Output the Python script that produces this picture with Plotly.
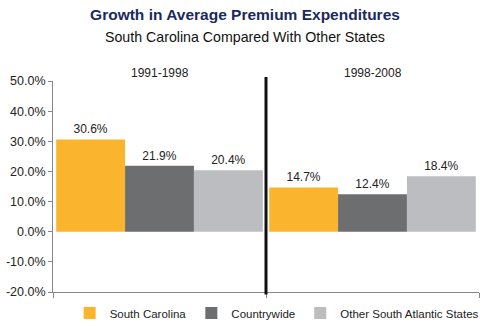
import plotly.graph_objects as go

periods = ["1991-1998", "1998-2008"]
series_names = ["South Carolina", "Countrywide", "Other South Atlantic States"]
south_carolina = [30.6, 14.7]
countrywide = [21.9, 12.4]
other_south_atlantic = [20.4, 18.4]
y_ticks = [-20, -10, 0, 10, 20, 30, 40, 50]
y_tick_labels = ["-20.0%", "-10.0%", "0.0%", "10.0%", "20.0%", "30.0%", "40.0%", "50.0%"]

colors = ["#FBB42E", "#6D6E70", "#BCBDC0"]
values = [south_carolina, countrywide, other_south_atlantic]

font_family = "Liberation Sans, Arial, sans-serif"

fig = go.Figure()
for name, vals, col in zip(series_names, values, colors):
    fig.add_trace(go.Bar(
        x=periods, y=vals, name=name,
        marker=dict(color=col, line=dict(width=0)),
        texttemplate="%{y:.1f}%", textposition="outside",
        textfont=dict(size=12, color="#222222", family=font_family),
        cliponaxis=False,
    ))

fig.update_layout(
    width=500, height=326,
    margin=dict(l=53, r=21, t=81, b=34, autoexpand=False),
    paper_bgcolor="white", plot_bgcolor="white",
    barmode="group", bargap=0.03, bargroupgap=0,
    font=dict(family=font_family, size=12, color="#222222"),
    title=dict(
        text="<b>Growth in Average Premium Expenditures</b>",
        x=0.49, xanchor="center", y=1 - 15 / 326, yanchor="middle",
        font=dict(size=15.5, color="#1B2A5C", family=font_family),
    ),
    showlegend=True,
    legend=dict(
        orientation="h", x=0.525, xanchor="center", y=-0.1, yanchor="middle",
        font=dict(size=11.5, color="#222222"), itemwidth=30,
        traceorder="normal", bgcolor="rgba(0,0,0,0)",
    ),
    xaxis=dict(
        showticklabels=False, showline=True, linecolor="#888888", linewidth=1,
        ticks="outside", tickson="boundaries", ticklen=5, tickcolor="#888888",
        showgrid=False, zeroline=False,
    ),
    yaxis=dict(
        range=[-20, 50], tickvals=y_ticks, ticktext=y_tick_labels,
        showline=True, linecolor="#888888", linewidth=1,
        ticks="outside", ticklen=4, tickcolor="#888888",
        showgrid=False, zeroline=False,
        tickfont=dict(size=12.5, color="#222222"),
    ),
)

fig.add_annotation(
    text="South Carolina Compared With Other States",
    xref="paper", yref="paper", x=(245 - 53) / 426, y=(292 - 37) / 211,
    showarrow=False, font=dict(size=14.2, color="#111111", family=font_family),
    xanchor="center", yanchor="middle",
)
for p in periods:
    fig.add_annotation(
        text=p, x=p, xref="x", yref="paper", y=(292 - 73) / 211,
        showarrow=False, font=dict(size=12, color="#222222"),
        xanchor="center", yanchor="middle",
    )

fig.add_shape(
    type="line", xref="paper", yref="paper", x0=0.5, x1=0.5,
    y0=-0.012, y1=(292 - 77) / 211, line=dict(color="#111111", width=3),
)

fig.write_html("out.html")
